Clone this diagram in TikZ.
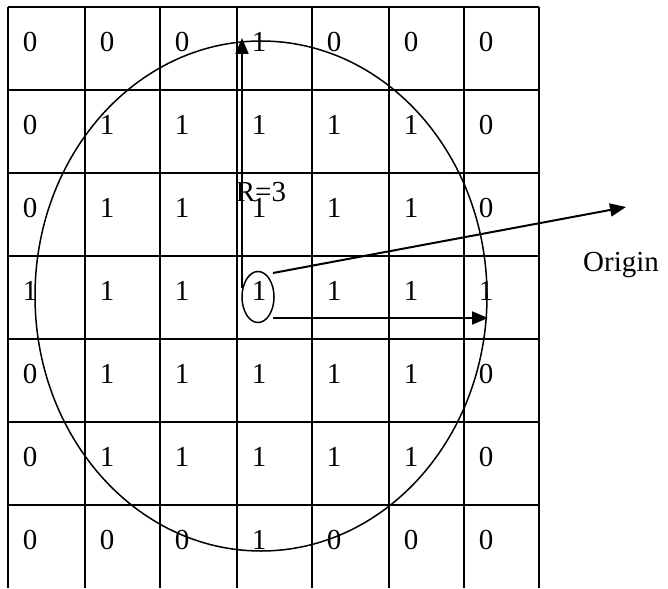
\documentclass[tikz,border=0pt]{standalone}
\usepackage{fontspec}
\setmainfont{Liberation Serif}
\usetikzlibrary{arrows.meta,shapes.geometric}
\begin{document}
\begin{tikzpicture}[x=1pt,y=-1pt,
  gridline/.style={line width=2pt},
  num/.style={inner sep=0pt,font=\fontsize{29}{34}\selectfont},
  arr/.style={line width=2pt,-{Triangle[length=16pt,width=13pt]}},
  curve/.style={line width=1.5pt}]
\useasboundingbox (0,0) rectangle (668,588);
% grid
\foreach \x in {8,85,160,237,312,389,464,539} \draw[gridline] (\x,7) -- (\x,588);
\foreach \y in {7,90,173,256,339,422,505} \draw[gridline] (8,\y) -- (539,\y);
% numbers
\def\colL{{8,85,160,237,312,389,464}}
\def\rowT{{7,90,173,256,339,422,505}}
\foreach \r/\vals in {1/{0,0,0,1,0,0,0},2/{0,1,1,1,1,1,0},3/{0,1,1,1,1,1,0},4/{1,1,1,1,1,1,1},5/{0,1,1,1,1,1,0},6/{0,1,1,1,1,1,0},7/{0,0,0,1,0,0,0}}{
  \foreach \v [count=\c] in \vals {
    \pgfmathsetmacro{\xx}{\colL[\c-1]+22}
    \pgfmathsetmacro{\yy}{\rowT[\r-1]+35}
    \node[num] (n-\r-\c) at (\xx,\yy) {\v};
  }
}
% big circle
\draw[curve] (261,296) ellipse [x radius=226, y radius=255];
% small ellipse around centre
\node[draw,ellipse,curve,minimum width=32pt,minimum height=51pt,inner sep=0pt] (ctr) at (258,297) {};
% arrows
\coordinate (vs) at (242,288);
\coordinate (vt) at (242,38);
\coordinate (hs) at (273,318);
\coordinate (ht) at (488,318);
\coordinate (os) at (273,273);
\coordinate (ot) at (626,207);
\draw[arr] (vs) -- (vt);
\draw[arr] (hs) -- (ht);
\draw[arr] (os) -- (ot);
\node[num] (r3) at (261,192) {R=3};
\node[num,anchor=west] (orig) at (583,265) {Origin};
\end{tikzpicture}
\end{document}
